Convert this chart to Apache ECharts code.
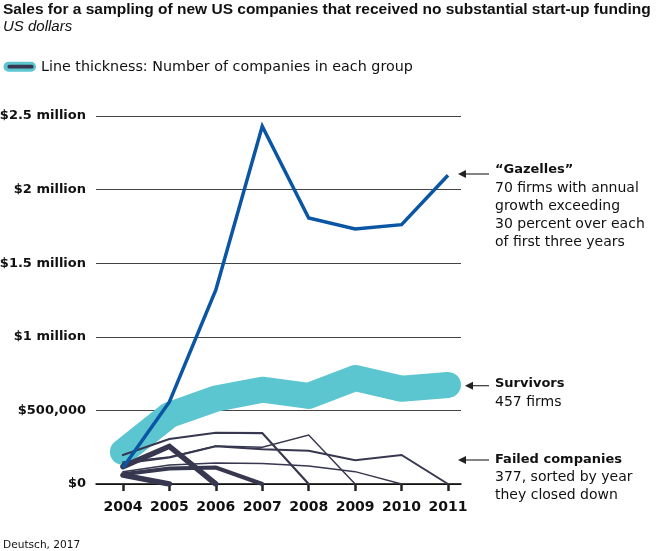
<!DOCTYPE html>
<html>
<head>
<meta charset="utf-8">
<script src="https://cdn.jsdelivr.net/npm/echarts@6/dist/echarts.min.js"></script>
<style>
html,body{margin:0;padding:0;background:#fff;}
#chart{width:657px;height:551px;}
</style>
</head>
<body>
<div id="chart"></div>
<script>
// ---- data ----
const years = [2004, 2005, 2006, 2007, 2008, 2009, 2010, 2011];
const yTicks = [0, 500000, 1000000, 1500000, 2000000, 2500000];
const yTickLabels = ['$0', '$500,000', '$1 million', '$1.5 million', '$2 million', '$2.5 million'];
const gazelles = [110000, 557000, 1318000, 2430000, 1807000, 1732000, 1762000, 2097000];
const survivors = [218000, 469000, 580000, 641000, 598000, 720000, 647000, 673000];
const failed2005 = [60000, 0];
const failed2006 = [118000, 256000, 0];
const failed2007 = [66000, 106000, 112000, 0];
const failed2008 = [197000, 306000, 348000, 346000, 0];
const failed2009 = [150000, 184000, 258000, 249000, 333000, 0];
const failed2010 = [84000, 129000, 143000, 140000, 123000, 84000, 0];
const failed2011 = [140000, 180000, 256000, 236000, 226000, 161000, 197000, 0];

const pairs = vals => vals.map((v, i) => [years[i], v]);

const failedColor = '#37374f';
const failedList = [
  {d: failed2011, w: 2},
  {d: failed2010, w: 1.5},
  {d: failed2009, w: 1.5},
  {d: failed2008, w: 2.2},
  {d: failed2007, w: 4},
  {d: failed2006, w: 5.5},
  {d: failed2005, w: 5.5}
];

const chart = echarts.init(document.getElementById('chart'), null, {renderer: 'canvas'});

const series = [];
series.push({
  type: 'line', data: pairs(survivors), symbol: 'none', silent: true,
  lineStyle: {color: '#5bc5d0', width: 26, cap: 'round', join: 'round'}
});
failedList.forEach(f => series.push({
  type: 'line', data: pairs(f.d), symbol: 'none', silent: true,
  lineStyle: {color: failedColor, width: f.w, cap: 'round', join: 'miter'}
}));
series.push({
  type: 'line', data: pairs(gazelles), symbol: 'none', silent: true,
  lineStyle: {color: '#0a56a4', width: 3.5, cap: 'butt', join: 'miter'}
});

const bodyFont = 'DejaVu Sans';
function txt(x, y, s, bold, size) {
  return {type: 'text', x: x, y: y, style: {text: s, fill: '#111', font: (bold ? 'bold ' : '') + (size || 14) + 'px "' + bodyFont + '"', textVerticalAlign: 'middle', textAlign: 'left'}};
}
function arrow(x1, x2, y) {
  return [
    {type: 'line', shape: {x1: x1 + 6, y1: y, x2: x2, y2: y}, style: {stroke: '#333', lineWidth: 1.2}},
    {type: 'polygon', shape: {points: [[x1, y], [x1 + 8, y - 4], [x1 + 8, y + 4]]}, style: {fill: '#222'}}
  ];
}

const graphic = [
  {type: 'text', x: 3, y: 10, style: {text: 'Sales for a sampling of new US companies that received no substantial start-up funding', fill: '#111', font: 'bold 15.5px "Liberation Sans"', textVerticalAlign: 'middle'}},
  {type: 'text', x: 3, y: 27, style: {text: 'US dollars', fill: '#111', font: 'italic 15px "Liberation Sans"', textVerticalAlign: 'middle'}},
  {type: 'rect', shape: {x: 3.5, y: 61.7, width: 32.5, height: 10, r: 5}, style: {fill: '#5bc5d0'}},
  {type: 'rect', shape: {x: 7.5, y: 64.8, width: 26, height: 3.8, r: 1.5}, style: {fill: '#37374f'}},
  {type: 'text', x: 41, y: 67, style: {text: 'Line thickness: Number of companies in each group', fill: '#111', font: '14.3px "DejaVu Sans"', textVerticalAlign: 'middle'}},
  txt(495, 170, '\u201cGazelles\u201d', true, 13),
  txt(495, 188, '70 firms with annual'),
  txt(495, 206, 'growth exceeding'),
  txt(495, 224, '30 percent over each'),
  txt(495, 242, 'of first three years'),
  txt(495, 384, 'Survivors', true, 13),
  txt(495, 402, '457 firms'),
  txt(495, 459.5, 'Failed companies', true, 13),
  txt(495, 477.5, '377, sorted by year'),
  txt(495, 495.5, 'they closed down'),
  {type: 'text', x: 3, y: 545, style: {text: 'Deutsch, 2017', fill: '#111', font: '10.6px "DejaVu Sans"', textVerticalAlign: 'middle'}}
].concat(arrow(458, 489, 174), arrow(465, 489, 385.7), arrow(458, 489, 460));

chart.setOption({
  animation: false,
  backgroundColor: '#fff',
  grid: {left: 96, right: 196, top: 116, bottom: 67, containLabel: false, outerBoundsMode: 'none'},
  xAxis: {
    type: 'value', min: 2003.42, max: 2011.28,
    axisLine: {show: true, lineStyle: {color: '#000', width: 1.5}},
    axisTick: {show: true, customValues: years, length: 7, lineStyle: {color: '#222', width: 2.5}},
    axisLabel: {show: true, customValues: years, margin: 16, color: '#111', fontFamily: 'DejaVu Sans', fontWeight: 'bold', fontSize: 14, formatter: v => String(Math.round(v))},
    splitLine: {show: false}
  },
  yAxis: {
    type: 'value', min: 0, max: 2500000, interval: 500000,
    axisLine: {show: false}, axisTick: {show: false},
    axisLabel: {margin: 10, color: '#111', fontFamily: 'DejaVu Sans', fontWeight: 'bold', fontSize: 13,
      formatter: v => yTickLabels[yTicks.indexOf(v)] || ''},
    splitLine: {show: true, lineStyle: {color: '#444', width: 1}}
  },
  series: series,
  graphic: graphic
});
</script>
</body>
</html>
